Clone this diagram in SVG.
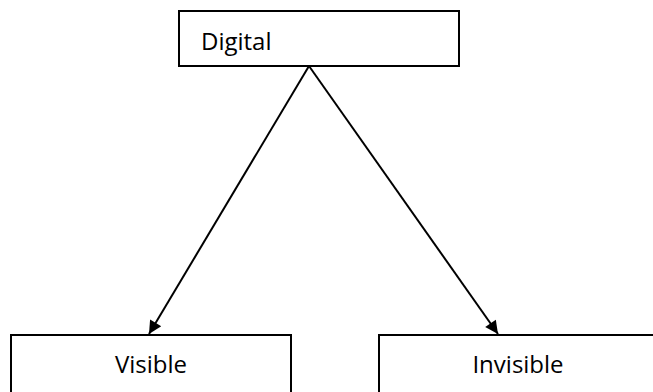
<svg xmlns="http://www.w3.org/2000/svg" width="653" height="392" viewBox="0 0 653 392">
<style>
.box{fill:#fff;stroke:#000;stroke-width:2}
.t{font-family:"Open Sans","Liberation Sans",sans-serif;font-size:24px;fill:#000}
.c{stroke:#000;stroke-width:2;fill:none}
</style>
<defs>
<marker id="ah" viewBox="0 0 10 10" refX="10" refY="5" markerWidth="8" markerHeight="6.5" markerUnits="strokeWidth" orient="auto">
<path d="M0,0 L10,5 L0,10 z" fill="#000"/>
</marker>
</defs>
<rect width="653" height="392" fill="#fff"/>
<g id="digital">
<rect class="box" x="179" y="11" width="280" height="55"/>
<text class="t" x="201" y="50">Digital</text>
</g>
<g id="visible">
<rect class="box" x="11" y="335" width="280" height="70"/>
<text class="t" x="151" y="373" text-anchor="middle">Visible</text>
</g>
<g id="invisible">
<rect class="box" x="379" y="335" width="278" height="70"/>
<text class="t" x="518" y="373" text-anchor="middle">Invisible</text>
</g>
<g id="connectors">
<line class="c" x1="309" y1="66" x2="149" y2="334" marker-end="url(#ah)"/>
<line class="c" x1="309" y1="66" x2="498" y2="334" marker-end="url(#ah)"/>
</g>
</svg>
